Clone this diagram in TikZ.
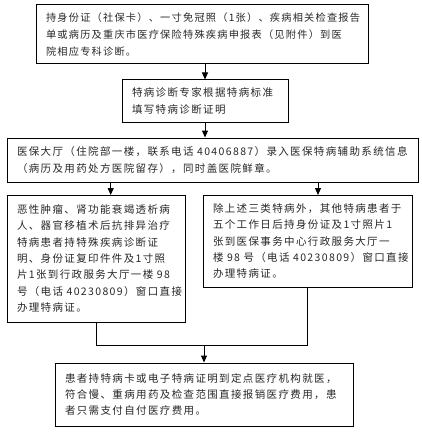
\documentclass[tikz,border=0pt]{standalone}
\usepackage{fontspec}
\newfontfamily\cjk[LetterSpace=13]{Noto Sans CJK SC}
\newfontfamily\cjknarrow[LetterSpace=12]{Noto Sans CJK SC}
\usetikzlibrary{arrows.meta}

\begin{document}
\begin{tikzpicture}[
  x=1pt, y=1pt,
  >={Triangle[length=7pt,width=6pt]},
  stepbox/.style={draw, line width=1pt, inner xsep=10pt, inner ysep=2pt,
    align=left, font=\cjk\fontsize{10.5}{16.3}\selectfont, text=black!85}
]
  \useasboundingbox (0,0) rectangle (422,-433);

  % Documents to hospital
  \node[stepbox, minimum width=332pt, minimum height=59pt, text width=312pt,
    font=\cjknarrow\fontsize{10.2}{16.7}\selectfont]
    (docs) at (202,-34.5)
    {持身份证（社保卡）、一寸免冠照（1张）、疾病相关检查报告\\
     单或病历及重庆市医疗保险特殊疾病申报表（见附件）到医\\
     院相应专科诊断。};

  % Expert certificate
  \node[stepbox, minimum width=166pt, minimum height=42pt, text width=146pt]
    (expert) at (205,-101)
    {特病诊断专家根据特病标准\\填写特病诊断证明};

  % Insurance hall
  \node[stepbox, minimum width=411pt, minimum height=44pt, text width=391pt]
    (hall) at (212.5,-160)
    {医保大厅（住院部一楼，联系电话~40406887）录入医保特病辅助系统信息\\
     （病历及用药处方医院留存），同时盖医院鲜章。};

  % Three special diseases
  \node[stepbox, minimum width=178pt, minimum height=127pt, text width=158pt]
    (three) at (96,-258.5)
    {恶性肿瘤、肾功能衰竭透析病\\人、器官移植术后抗排异治疗\\
     特病患者持特殊疾病诊断证\\明、身份证复印件件及1寸照\\
     片1张到行政服务大厅一楼~98\\号（电话~40230809）窗口直接\\
     办理特病证。};

  % Other special diseases
  \node[stepbox, minimum width=209pt, minimum height=92pt, text width=189pt]
    (other) at (307.5,-241)
    {除上述三类特病外，其他特病患者于\\五个工作日后持身份证及1寸照片1\\
     张到医保事务中心行政服务大厅一\\楼~98~号（电话~40230809）窗口直接\\
     办理特病证。};

  % Settlement
  \node[stepbox, minimum width=298pt, minimum height=63pt, text width=278pt]
    (settle) at (204,-394.5)
    {患者持特病卡或电子特病证明到定点医疗机构就医，\\
     符合慢、重病用药及检查范围直接报销医疗费用，患\\
     者只需支付自付医疗费用。};

  % Arrow points
  \coordinate (tthree) at (110.7,-195);
  \coordinate (tother) at (318,-195);
  \coordinate (join) at (204,-345.7);

  % Connectors
  \draw[->, line width=1pt] (expert.north |- docs.south) -- (expert.north);
  \draw[->, line width=1pt] (expert.south) -- (expert.south |- hall.north);
  \draw[->, line width=1pt] (tthree |- hall.south) -- (tthree);
  \draw[->, line width=1pt] (tother |- hall.south) -- (tother);
  \draw[line width=1pt] (three.south) |- (join) -| (other.south);
  \draw[->, line width=1pt] (join) -- (settle.north);
\end{tikzpicture}
\end{document}
